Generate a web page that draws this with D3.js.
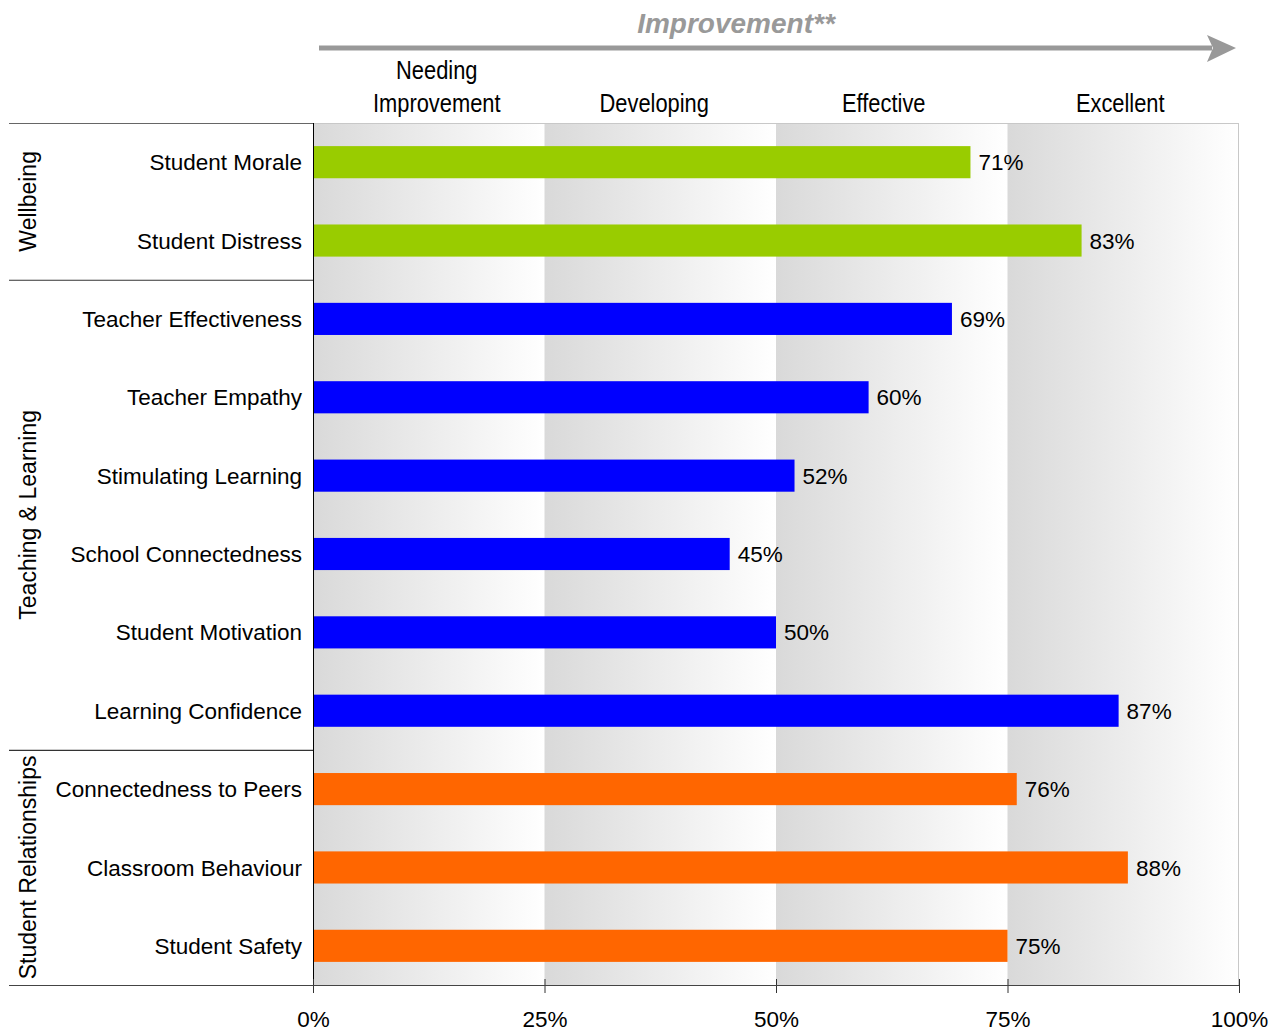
<!DOCTYPE html>
<html>
<head>
<meta charset="utf-8">
<script src="https://cdn.jsdelivr.net/npm/d3@7"></script>
<style>
  html, body { margin: 0; padding: 0; background: #fff; }
  text { font-family: Arial, "Liberation Sans", sans-serif; fill: #000; }
</style>
</head>
<body>
<svg id="chart" width="1279" height="1032"></svg>
<script>
// Survey measures, grouped by domain
const categories = [
  "Student Morale", "Student Distress",
  "Teacher Effectiveness", "Teacher Empathy", "Stimulating Learning",
  "School Connectedness", "Student Motivation", "Learning Confidence",
  "Connectedness to Peers", "Classroom Behaviour", "Student Safety"
];
const values = [71, 83, 69, 60, 52, 45, 50, 87, 76, 88, 75];
const groupOf = [
  "Wellbeing", "Wellbeing",
  "Teaching & Learning", "Teaching & Learning", "Teaching & Learning",
  "Teaching & Learning", "Teaching & Learning", "Teaching & Learning",
  "Student Relationships", "Student Relationships", "Student Relationships"
];
const groups = ["Wellbeing", "Teaching & Learning", "Student Relationships"];
const groupColors = ["#99cc00", "#0000ff", "#ff6600"];
const bandNames = [["Needing", "Improvement"], ["Developing"], ["Effective"], ["Excellent"]];
const bandEdges = [0, 25, 50, 75, 100];
const tickValues = [0, 25, 50, 75, 100];
const titleText = "Improvement**";

// Layout
const plotLeft = 313, plotRight = 1239, plotTop = 123, plotBottom = 985;
const headShift = [8, -6, -8, -3];   // nudges of the band headings from band centres
const labelSize = 22.5;

const svg = d3.select("#chart");

const x = d3.scaleLinear().domain([0, 100]).range([plotLeft, plotRight]);
const y = d3.scaleBand().domain(categories).range([plotTop, plotBottom]).paddingInner(0.59).paddingOuter(0.295);
const color = d3.scaleOrdinal().domain(groups).range(groupColors);

// Gradient for the performance bands: grey on the left fading to white
const defs = svg.append("defs");
const grad = defs.append("linearGradient").attr("id", "bandGrad")
  .attr("x1", "0%").attr("x2", "100%").attr("y1", "0%").attr("y2", "0%");
grad.append("stop").attr("offset", "0%").attr("stop-color", "#d9d9d9");
grad.append("stop").attr("offset", "100%").attr("stop-color", "#ffffff");

const bands = d3.range(4).map(i => ({ from: bandEdges[i], to: bandEdges[i + 1], name: bandNames[i], shift: headShift[i] }));

svg.append("g").selectAll("rect").data(bands).join("rect")
  .attr("x", d => x(d.from))
  .attr("y", plotTop)
  .attr("width", d => x(d.to) - x(d.from))
  .attr("height", plotBottom - plotTop)
  .attr("fill", "url(#bandGrad)");

// Plot frame (top and right in grey)
svg.append("line").attr("x1", plotLeft).attr("x2", plotRight).attr("y1", plotTop + 0.5).attr("y2", plotTop + 0.5)
  .attr("stroke", "#c8c8c8").attr("stroke-width", 1);
svg.append("line").attr("x1", plotRight - 0.5).attr("x2", plotRight - 0.5).attr("y1", plotTop).attr("y2", plotBottom)
  .attr("stroke", "#c8c8c8").attr("stroke-width", 1);

// Bars
svg.append("g").selectAll("rect").data(categories).join("rect")
  .attr("x", x(0))
  .attr("y", d => y(d))
  .attr("width", (d, i) => x(values[i]) - x(0))
  .attr("height", y.bandwidth())
  .attr("fill", (d, i) => color(groupOf[i]));

// Value labels
svg.append("g").selectAll("text").data(categories).join("text")
  .attr("x", (d, i) => x(values[i]) + 8)
  .attr("y", d => y(d) + y.bandwidth() / 2)
  .attr("dy", "0.36em")
  .attr("font-size", labelSize)
  .text((d, i) => values[i] + "%");

// Category labels
svg.append("g").selectAll("text").data(categories).join("text")
  .attr("x", plotLeft - 11)
  .attr("y", d => y(d) + y.bandwidth() / 2)
  .attr("dy", "0.36em")
  .attr("text-anchor", "end")
  .attr("font-size", labelSize)
  .text(d => d);

// Group separators and rotated group labels
const step = y.step();
const groupInfo = groups.map(g => {
  const idx = categories.map((c, i) => i).filter(i => groupOf[i] === g);
  return { name: g, start: d3.min(idx), end: d3.max(idx) + 1 };
});
const rowTop = i => plotTop + i * step;

svg.append("g").selectAll("line").data(groupInfo).join("line")
  .attr("x1", 9).attr("x2", plotLeft)
  .attr("y1", d => rowTop(d.start) + 0.5).attr("y2", d => rowTop(d.start) + 0.5)
  .attr("stroke", (d, i) => i === 0 ? "#666" : "#333").attr("stroke-width", 1.2);

svg.append("g").selectAll("text").data(groupInfo).join("text")
  .attr("transform", d => {
    const cy = (rowTop(d.start) + rowTop(d.end)) / 2;
    return `translate(36,${cy}) rotate(-90)`;
  })
  .attr("text-anchor", "middle")
  .attr("font-size", 23)
  .text(d => d.name);

// Left axis line
svg.append("line").attr("x1", plotLeft + 0.5).attr("x2", plotLeft + 0.5).attr("y1", plotTop).attr("y2", plotBottom)
  .attr("stroke", "#000").attr("stroke-width", 1);

// Bottom axis
const xAxis = d3.axisBottom(x).tickValues(tickValues).tickFormat(d => d + "%").tickSize(8).tickSizeOuter(0);
const axisG = svg.append("g").attr("transform", `translate(0,${plotBottom})`).call(xAxis);
axisG.select(".domain").remove();
axisG.selectAll(".tick line").attr("stroke", "#333").attr("y1", -6).attr("y2", 8);
axisG.selectAll(".tick text").attr("font-size", labelSize).attr("y", 26)
  .attr("font-family", "Arial, 'Liberation Sans', sans-serif").attr("fill", "#000");
svg.append("line").attr("x1", 9).attr("x2", plotRight).attr("y1", plotBottom + 0.5).attr("y2", plotBottom + 0.5)
  .attr("stroke", "#444").attr("stroke-width", 1.2);

// Band headings, in a condensed face
const heads = svg.append("g").selectAll("text").data(bands).join("text")
  .attr("text-anchor", "middle")
  .attr("font-size", 25)
  .attr("transform", d => `translate(${(x(d.from) + x(d.to)) / 2 + d.shift},112) scale(0.875,1)`);
heads.selectAll("tspan").data(d => d.name.slice().reverse()).join("tspan")
  .attr("x", 0)
  .attr("y", (t, j) => -j * 33)
  .text(t => t);

// Improvement arrow
svg.append("line").attr("x1", 319).attr("x2", 1212).attr("y1", 48).attr("y2", 48)
  .attr("stroke", "#999").attr("stroke-width", 5);
svg.append("path").attr("d", "M1207,35 L1236,48 L1207,62 L1213,48 Z").attr("fill", "#999");

svg.append("text").attr("x", 736).attr("y", 33)
  .attr("text-anchor", "middle")
  .attr("font-size", 28).attr("font-weight", "bold").attr("font-style", "italic")
  .style("fill", "#999")
  .text(titleText);
</script>
</body>
</html>
